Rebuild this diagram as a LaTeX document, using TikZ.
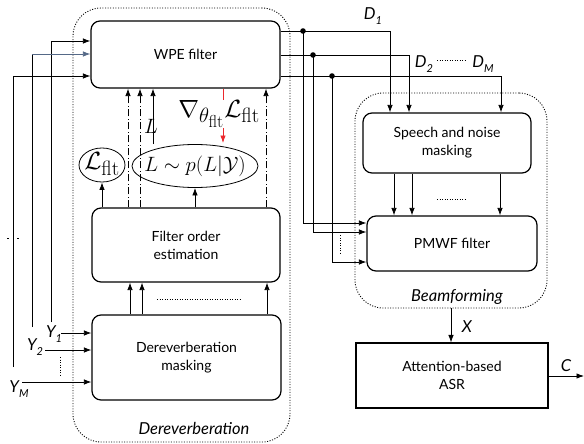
\documentclass[tikz,border=0pt]{standalone}
\usepackage[no-math]{fontspec}
\setmainfont{Lato}
\usetikzlibrary{arrows.meta,calc,shapes.geometric}
\definecolor{bluegray}{RGB}{85,105,135}
\definecolor{redarr}{RGB}{235,40,45}
\newcommand\isub[1]{\raisebox{-0.55ex}{\fontsize{11}{12}\selectfont #1}}
\begin{document}
\begin{tikzpicture}[x=1pt,y=-1pt,
  box/.style={draw, line width=1.2pt, rounded corners=9pt, align=center, inner sep=0pt, font=\fontsize{14}{18}\selectfont},
  sqbox/.style={draw, line width=1.1pt, align=center, inner sep=0pt, font=\fontsize{14}{18}\selectfont},
  grp/.style={draw, line width=0.9pt, dash pattern=on 1pt off 1.6pt, rounded corners=28pt, inner sep=0pt},
  arr/.style={-{Latex[length=7.5pt,width=5.5pt]}, line width=0.8pt},
  dsh/.style={arr, dash pattern=on 7pt off 2.5pt on 1pt off 2.5pt},
  dotl/.style={line width=0.8pt, dash pattern=on 1pt off 1.5pt},
  lbl/.style={font=\fontsize{16.5}{19}\selectfont\itshape, inner sep=0pt},
  mth/.style={font=\fontsize{20.74}{24}\selectfont, inner sep=1pt},
  bigmth/.style={font=\fontsize{24.88}{28}\selectfont, inner sep=1pt},
  ell/.style={draw, ellipse, line width=0.8pt, inner sep=0pt}]
\useasboundingbox (0,0) rectangle (584,444);

% groups
\node[grp, minimum width=217pt, minimum height=434pt] (derev) at (181.5,225) {};
\node[grp, minimum width=192pt, minimum height=215pt] (beam) at (451,200.5) {};
\node[lbl] (derevlab) at (194,428) {Dereverberation};
\node[lbl] (beamlab) at (457,297) {Beamforming};

% boxes
\node[box, minimum width=189pt, minimum height=67pt] (wpe) at (185.5,54.5) {WPE filter};
\node[box, minimum width=188pt, minimum height=74pt] (foe) at (186,245) {Filter order\\estimation};
\node[box, minimum width=189pt, minimum height=85pt] (dm) at (186.5,357.5) {Dereverberation\\masking};
\node[box, minimum width=168pt, minimum height=60pt] (sn) at (447,143) {Speech and noise\\masking};
\node[box, minimum width=170pt, minimum height=55pt] (pmwf) at (452,243.5) {PMWF filter};
\node[sqbox, minimum width=192pt, minimum height=65pt] (asr) at (452,375.5) {Attention-based\\ASR};

% ellipses
\node[ell, minimum width=46pt, minimum height=34pt] (lflt) at (102,165) {};
\node[bigmth, inner sep=0pt] (lflttext) at ([yshift=1pt]lflt.center) {$\mathcal{L}_{\mathrm{flt}}$};
\node[ell, minimum width=126pt, minimum height=43pt] (lp) at (195,166) {};
\node[mth] (lptext) at (lp.center) {$L\sim p(L|\mathcal{Y})$};

% helper x positions
\coordinate (xa) at (128,0);
\coordinate (xb) at (140,0);
\coordinate (xL) at (153,0);
\coordinate (xr) at (223,0);
\coordinate (xc) at (266,0);
\coordinate (m1) at (130,0);
\coordinate (m2) at (142,0);
\coordinate (m3) at (267,0);

% inside dereverberation
\draw[arr] (dm.north -| m1) -- (foe.south -| m1);
\draw[arr] (dm.north -| m2) -- (foe.south -| m2);
\draw[arr] (dm.north -| m3) -- (foe.south -| m3);
\coordinate (dl1) at (157,299);
\coordinate (dl2) at (242,299);
\draw[dotl] (dl1) -- (dl2);

\draw[arr] (foe.north -| lflt.south) -- (lflt.south);
\draw[arr] (foe.north -| lp.south) -- (lp.south);
\draw[arr] (lp.north -| xL) -- (wpe.south -| xL);
\node[mth] (Llab) at (151,126) {$L$};
\draw[dsh] (foe.north -| xa) -- (wpe.south -| xa);
\draw[dsh] (foe.north -| xb) -- (wpe.south -| xb);
\draw[dsh] (foe.north -| xc) -- (wpe.south -| xc);
\coordinate (redend) at (223,143);
\draw[arr, redarr] (wpe.south -| xr) -- (redend);
\node[bigmth, fill=white, inner sep=0pt] (grad) at (219,114) {$\nabla_{\theta_{\mathrm{flt}}}\mathcal{L}_{\mathrm{flt}}$};

% inputs
\coordinate (y1s) at (51,322);
\coordinate (y2s) at (32,327);
\coordinate (y2c) at (32,54);
\coordinate (yms) at (13,367);
\coordinate (w1) at (0,41);
\coordinate (w3) at (0,76);
\draw[arr] (y1s) |- (wpe.west |- w1);
\draw[line width=0.8pt] (y2s) -- (y2c);
\draw[arr, bluegray] (y2c) -- (wpe.west |- y2c);
\draw[arr] (yms) |- (wpe.west |- w3);
\coordinate (hd1) at (7,238);
\coordinate (hd2) at (19,238);
\draw[line width=0.8pt, dash pattern=on 2pt off 8pt] (hd1) -- (hd2);

\coordinate (i1) at (61,333);
\coordinate (i2) at (45,350);
\coordinate (i3) at (22,382);
\draw[arr] (i1) -- (dm.west |- i1);
\draw[arr] (i2) -- (dm.west |- i2);
\draw[arr] (i3) -- (dm.west |- i3);
\coordinate (vd1) at (60,357);
\coordinate (vd2) at (60,375);
\draw[dotl] (vd1) -- (vd2);
\node[lbl] (y1lab) at (54,334) {Y\isub{1}};
\node[lbl] (y2lab) at (35,347) {Y\isub{2}};
\node[lbl] (ymlab) at (19,389) {Y\isub{M}};

% WPE outputs
\coordinate (o1) at (0,31);
\coordinate (o2) at (0,55);
\coordinate (o3) at (0,76);
\coordinate (dx1) at (390,0);
\coordinate (dx2) at (409,0);
\coordinate (dx3) at (501,0);
\draw[arr] (wpe.east |- o1) -| (sn.north -| dx1);
\draw[arr] (wpe.east |- o2) -| (sn.north -| dx2);
\draw[arr] (wpe.east |- o3) -| (sn.north -| dx3);
\coordinate (j1) at (303,31);
\coordinate (j2) at (313,55);
\coordinate (j3) at (332,76);
\fill (j1) circle (2.8pt);
\fill (j2) circle (2.8pt);
\fill (j3) circle (2.8pt);
\coordinate (p1) at (0,223);
\coordinate (p2) at (0,232);
\coordinate (p3) at (0,262);
\draw[arr] (j1) |- (pmwf.west |- p1);
\draw[arr] (j2) |- (pmwf.west |- p2);
\draw[arr] (j3) |- (pmwf.west |- p3);
\coordinate (pv1) at (340,235);
\coordinate (pv2) at (340,253);
\draw[dotl] (pv1) -- (pv2);
\node[lbl] (d1lab) at (373,16) {D\isub{1}};
\node[lbl] (d2lab) at (424,64) {D\isub{2}};
\node[lbl] (dmlab) at (483,64) {D\isub{M}};
\coordinate (dd1) at (437,60);
\coordinate (dd2) at (465,60);
\draw[dotl] (dd1) -- (dd2);

% speech -> pmwf
\coordinate (s1) at (394,0);
\coordinate (s2) at (412,0);
\coordinate (s3) at (500,0);
\draw[arr] (sn.south -| s1) -- (pmwf.north -| s1);
\draw[arr] (sn.south -| s2) -- (pmwf.north -| s2);
\draw[arr] (sn.south -| s3) -- (pmwf.north -| s3);
\coordinate (sd1) at (437,199);
\coordinate (sd2) at (465,199);
\draw[dotl] (sd1) -- (sd2);

% beamforming -> ASR
\draw[arr] (beam.south) -- (beam.south |- asr.north);
\node[lbl] (xlab) at (467,327) {X};
\coordinate (cend) at (584,376);
\draw[arr] (asr.east |- cend) -- (cend);
\node[lbl] (clab) at (566,366) {C};
\end{tikzpicture}
\end{document}
